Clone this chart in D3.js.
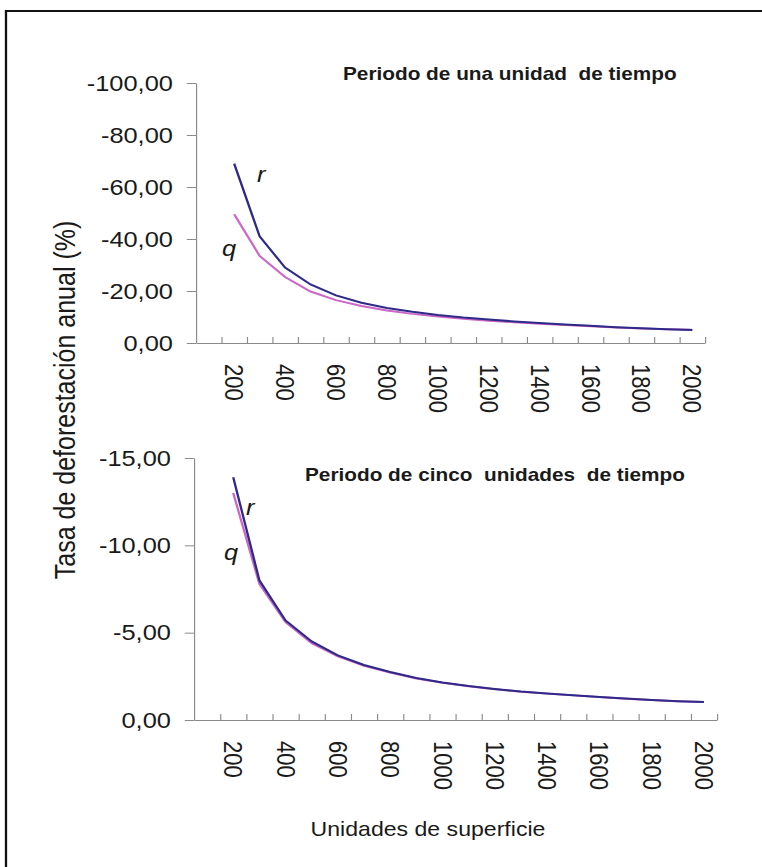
<!DOCTYPE html>
<html>
<head>
<meta charset="utf-8">
<script src="https://cdn.jsdelivr.net/npm/d3@7"></script>
<style>
  body { margin: 0; background: #fff; }
  svg { display: block; }
  text { font-family: "Liberation Sans", Arial, sans-serif; fill: #1a1a1a; }
</style>
</head>
<body>
<svg id="chart"></svg>
<script>
// superficie (x categories); 100 has no data
var categories = [100, 200, 300, 400, 500, 600, 700, 800, 900, 1000,
                  1100, 1200, 1300, 1400, 1500, 1600, 1700, 1800, 1900, 2000];
var sizes = [200, 300, 400, 500, 600, 700, 800, 900, 1000, 1100,
             1200, 1300, 1400, 1500, 1600, 1700, 1800, 1900, 2000];
var xTickLabels = [200, 400, 600, 800, 1000, 1200, 1400, 1600, 1800, 2000];

// periodo de una unidad de tiempo
var r1 = [-69, -41, -29, -22.5, -18.3, -15.5, -13.5, -12, -10.8, -9.8,
          -9, -8.3, -7.7, -7.1, -6.6, -6.1, -5.7, -5.3, -5.0];
var q1 = [-49.5, -33.5, -25.4, -19.8, -16.5, -14.2, -12.5, -11.2, -10.2, -9.3,
          -8.6, -8.0, -7.4, -6.9, -6.4, -6.0, -5.6, -5.3, -5.1];
var yTicks1 = [0, -20, -40, -60, -80, -100];

// periodo de cinco unidades de tiempo
var r5 = [-13.9, -8.0, -5.7, -4.5, -3.7, -3.15, -2.75, -2.4, -2.15, -1.95,
          -1.78, -1.63, -1.52, -1.42, -1.32, -1.23, -1.15, -1.08, -1.03];
var q5 = [-13.0, -7.8, -5.6, -4.4, -3.65, -3.1, -2.72, -2.38, -2.13, -1.93,
          -1.76, -1.62, -1.51, -1.41, -1.31, -1.22, -1.14, -1.08, -1.03];
var yTicks5 = [0, -5, -10, -15];

var SX = 1.1545;  // the picture is stretched horizontally
var W = 762, H = 867;

var svg = d3.select("#chart")
    .attr("width", W)
    .attr("height", H)
    .attr("viewBox", "0 0 " + (W / SX) + " " + H)
    .attr("preserveAspectRatio", "none");

// frame
svg.append("rect")
    .attr("x", 6 / SX)
    .attr("y", 11)
    .attr("width", 800)
    .attr("height", 900)
    .attr("fill", "none")
    .attr("stroke", "#111")
    .attr("stroke-width", 2);

var locale = d3.formatLocale({decimal: ",", thousands: ".", grouping: [3], currency: ["", ""], minus: "-"});
var fmt = locale.format(".2f");

function panel(o) {
  var x = d3.scaleBand()
      .domain(categories)
      .range([o.left / SX, o.right / SX]);

  var y = d3.scaleLinear()
      .domain([0, o.yMin])
      .range([o.zero, o.top]);

  var g = svg.append("g");

  // y axis
  var yAxis = d3.axisLeft(y)
      .tickValues(o.yTicks)
      .tickSize(8)
      .tickSizeOuter(0)
      .tickPadding(12)
      .tickFormat(fmt);

  var ya = g.append("g")
      .attr("transform", "translate(" + (o.left / SX) + ",0)")
      .call(yAxis);
  ya.select(".domain").attr("stroke", "#8a8a8a");
  ya.selectAll(".tick line").attr("stroke", "#8a8a8a");
  ya.selectAll(".tick text")
      .attr("font-size", 22)
      .attr("fill", "#1a1a1a")
      .style("font-family", "Liberation Sans, Arial, sans-serif");

  // x axis: tick marks between categories
  var idx = d3.scaleLinear()
      .domain([0, categories.length])
      .range([o.left / SX, o.right / SX]);

  var xt = g.append("g")
      .attr("transform", "translate(0," + o.zero + ")")
      .call(d3.axisBottom(idx)
        .tickValues(d3.range(1, categories.length + 1))
        .tickSize(-6)
        .tickSizeOuter(0)
        .tickFormat(""));
  xt.select(".domain").attr("stroke", "#8a8a8a");
  xt.selectAll(".tick line").attr("stroke", "#8a8a8a");

  // x labels, rotated
  var xl = g.append("g")
      .attr("transform", "translate(0," + o.zero + ")")
      .call(d3.axisBottom(x)
        .tickValues(xTickLabels)
        .tickSize(0)
        .tickSizeOuter(0));
  xl.select(".domain").remove();
  xl.selectAll(".tick text")
      .attr("font-size", 22)
      .attr("fill", "#1a1a1a")
      .style("font-family", "Liberation Sans, Arial, sans-serif")
      .attr("transform", "rotate(90)")
      .attr("x", 21)
      .attr("y", 0)
      .attr("dy", "0.35em")
      .style("text-anchor", "start");

  var line = d3.line()
      .x(function(d) { return x(d.size) + x.bandwidth() / 2; })
      .y(function(d) { return y(d.v); });

  function series(vals) {
    return sizes.map(function(s, i) { return {size: s, v: vals[i]}; });
  }

  g.append("path")
      .datum(series(o.q))
      .attr("fill", "none")
      .attr("stroke", "#cc66c8")
      .attr("stroke-width", 2)
      .attr("d", line);

  g.append("path")
      .datum(series(o.r))
      .attr("fill", "none")
      .attr("stroke", "#2e2a88")
      .attr("stroke-width", 2)
      .attr("d", line);

  // title
  g.append("text")
      .attr("x", o.titleX / SX)
      .attr("y", o.titleY)
      .attr("font-size", 18)
      .attr("font-weight", "bold")
      .attr("fill", "#111")
      .style("white-space", "pre")
      .text(o.title);

  // curve names
  g.append("text")
      .attr("x", o.rPos[0] / SX)
      .attr("y", o.rPos[1])
      .attr("font-size", 22)
      .attr("font-style", "italic")
      .attr("fill", "#444")
      .text("r");

  g.append("text")
      .attr("x", o.qPos[0] / SX)
      .attr("y", o.qPos[1])
      .attr("font-size", 22)
      .attr("font-style", "italic")
      .attr("fill", "#444")
      .text("q");
}

panel({
  left: 196, right: 705, top: 83, zero: 343, yMin: -100,
  yTicks: yTicks1, r: r1, q: q1,
  title: "Periodo de una unidad  de tiempo", titleX: 343, titleY: 80,
  rPos: [257, 182], qPos: [222, 256]
});

panel({
  left: 194, right: 717, top: 458, zero: 720, yMin: -15,
  yTicks: yTicks5, r: r5, q: q5,
  title: "Periodo de cinco  unidades  de tiempo", titleX: 305, titleY: 481,
  rPos: [246, 515], qPos: [224, 560]
});

// axis titles
svg.append("text")
    .attr("transform", "translate(" + (75 / SX) + ",400) rotate(-90)")
    .attr("text-anchor", "middle")
    .attr("font-size", 25)
    .attr("fill", "#1a1a1a")
    .text("Tasa de deforestación anual (%)");

svg.append("text")
    .attr("x", 428 / SX)
    .attr("y", 836)
    .attr("text-anchor", "middle")
    .attr("font-size", 20)
    .attr("fill", "#1a1a1a")
    .text("Unidades de superficie");
</script>
</body>
</html>
